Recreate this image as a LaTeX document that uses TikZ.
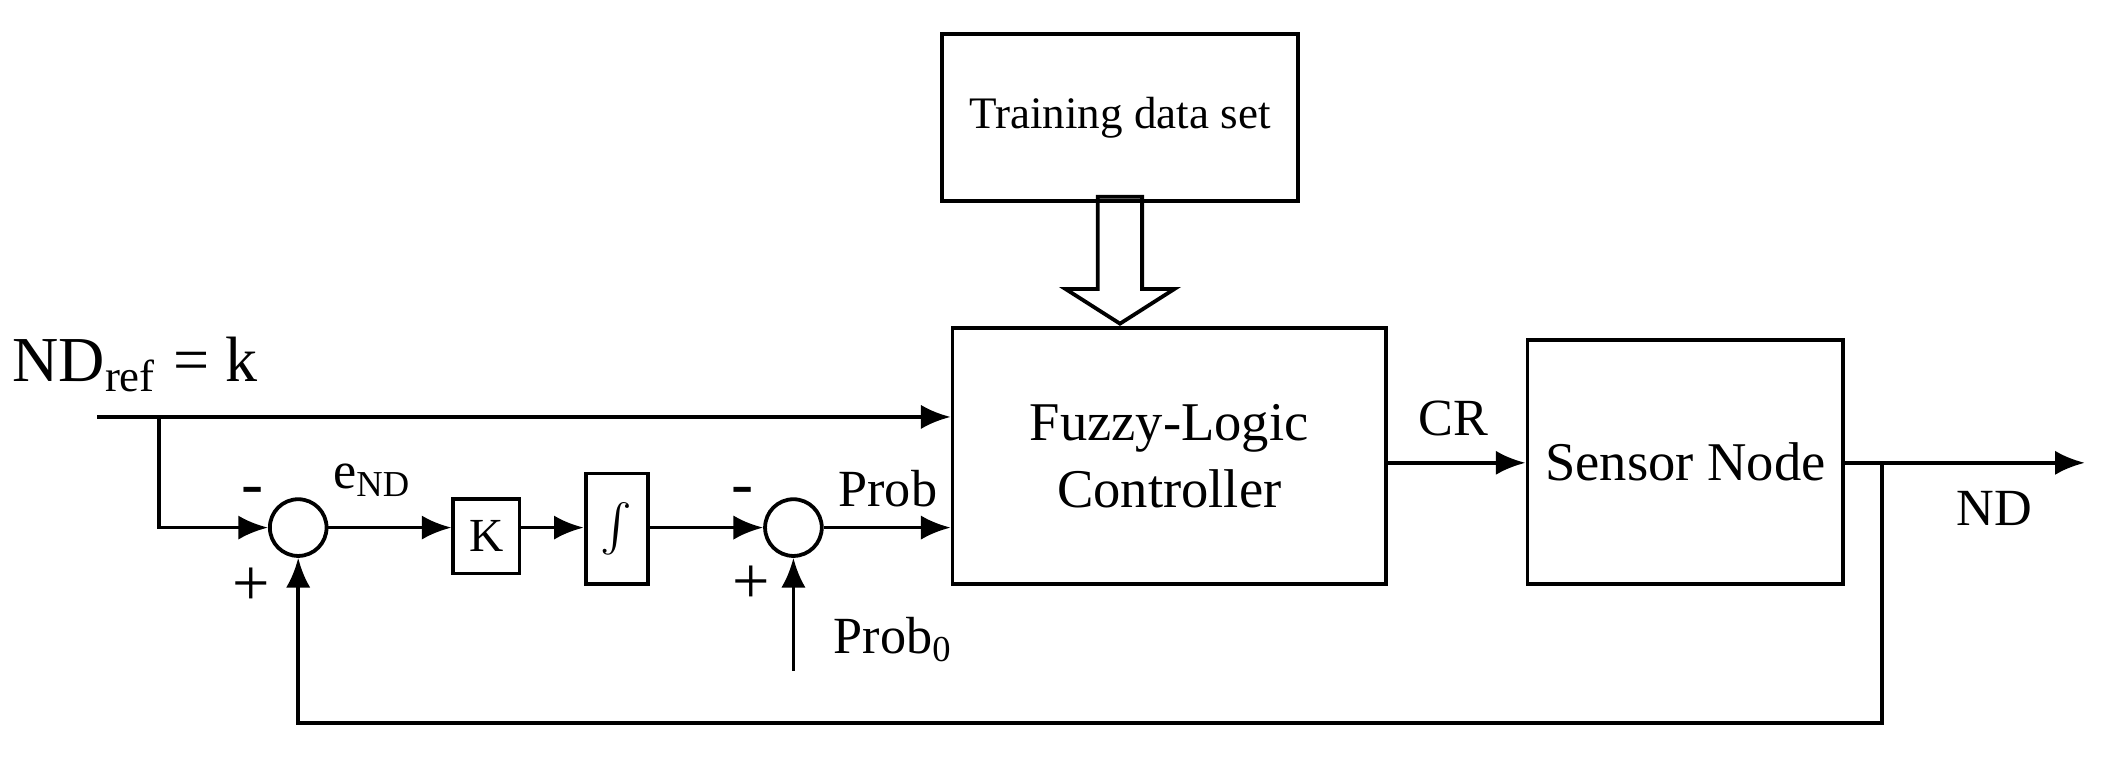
\documentclass[tikz,border=0pt]{standalone}
\usepackage{fontspec}
\setmainfont{Liberation Serif}
\usetikzlibrary{positioning, arrows.meta, shapes.arrows}
\tikzset{
    blk/.style={draw, thick, minimum width=#1, inner sep=0pt},
    sum/.style={draw, thick, circle, minimum size=0.42cm, inner sep=0pt},
    sig/.style={thick, -{Latex[length=2.2mm, width=1.8mm]}},
    lbl/.style={font=\fontsize{11}{12}\selectfont}
}
\begin{document}
\begin{tikzpicture}[x=0.01cm, y=-0.01cm]
    \useasboundingbox (0,0) rectangle (1560,561);
    % Bloques
    \node[blk=2.64cm, minimum height=1.24cm, font=\fontsize{9.5}{11}\selectfont] (train) at (830,87) {Training data set};
    \node[blk=3.21cm, minimum height=1.90cm, align=center, font=\fontsize{11.5}{14}\selectfont] (flc) at (866.5,338) {Fuzzy-Logic\\Controller};
    \node[blk=2.34cm, minimum height=1.81cm, font=\fontsize{11.5}{14}\selectfont] (sensor) at (1249,342.5) {Sensor Node};
    \node[blk=0.49cm, minimum height=0.55cm, font=\fontsize{10}{12}\selectfont] (gain) at (360.5,397.5) {K};
    \node[blk=0.46cm, minimum height=0.82cm] (integ) at (457,392) {$\int$};
    \node[sum] (sum1) at (221,391) {};
    \node[sum] (sum2) at (588,391) {};
    % Flecha de datos
    \node[single arrow, draw, thick, shape border rotate=270,
          single arrow head extend=0.24cm, single arrow tip angle=115, minimum height=0.94cm,
          inner sep=1.5mm, anchor=tip] (data) at (flc.north -| train) {};
    % Coordenadas auxiliares
    \coordinate (in) at (72,309);
    \coordinate (split) at (118,309);
    \coordinate (p0) at (588,497);
    \coordinate (tap) at (1395,343);
    \coordinate (out) at (1545,343);
    % Senales
    \draw[sig] (in) -- (in -| flc.west);
    \draw[sig] (split) |- (sum1.west);
    \draw[sig] (sum1.east) -- (sum1.east -| gain.west);
    \draw[sig] (sum1 -| gain.east) -- (sum1 -| integ.west);
    \draw[sig] (sum1 -| integ.east) -- (sum2.west);
    \draw[sig] (sum2.east) -- (sum2 -| flc.west);
    \draw[sig] (p0) -- (sum2.south);
    \draw[sig] (flc.east |- tap) -- (sensor.west |- tap);
    \draw[sig] (sensor.east |- tap) -- (out);
    \draw[sig] (tap) -- (1395,536) -| (sum1.south);
    % Etiquetas
    \node[font=\fontsize{13.5}{15}\selectfont] (ndref) at (100,270) {ND\textsubscript{ref} = k};
    \node[lbl] (err) at (276,356) {e\textsubscript{ND}};
    \node[lbl] (prob) at (658,362) {Prob};
    \node[lbl] (prob0) at (662,474) {Prob\textsubscript{0}};
    \node[lbl] (cr) at (1077,310) {CR};
    \node[lbl] (nd) at (1478,377) {ND};
    \node[font=\fontsize{14}{14}\selectfont] (m1) at (187,368) {-};
    \node[font=\fontsize{14}{14}\selectfont] (p1) at (186,435) {+};
    \node[font=\fontsize{14}{14}\selectfont] (m2) at (550,368) {-};
    \node[font=\fontsize{14}{14}\selectfont] (p2) at (557,433) {+};
\end{tikzpicture}
\end{document}
